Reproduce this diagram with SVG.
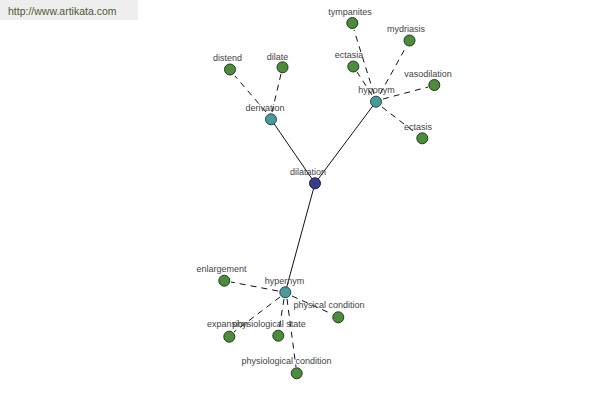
<svg xmlns="http://www.w3.org/2000/svg" width="600" height="400" viewBox="0 0 600 400">
<style>
text{font-family:"Liberation Sans",Arial,sans-serif;font-size:9px;fill:#444;text-anchor:middle}
.solid{stroke:#111;stroke-width:1;fill:none}
.dash{stroke:#111;stroke-width:1;stroke-dasharray:6,5;fill:none}
.leaf{fill:#4c8c3c;stroke:#1f3a1a;stroke-width:1}
.mid{fill:#4a9a9a;stroke:#1f4a4a;stroke-width:1}
.root{fill:#3c3c8c;stroke:#1a1a4a;stroke-width:1}
</style>
<rect x="0" y="0" width="138" height="20" fill="#eeeeee"/>
<text x="8" y="15" style="text-anchor:start;font-size:10.5px;fill:#4d5a33">http://www.artikata.com</text>
<g id="connectors">
<line class="solid" x1="315" y1="183.3" x2="271" y2="119.3"/>
<line class="solid" x1="315" y1="183.3" x2="376" y2="101.7"/>
<line class="solid" x1="315" y1="183.3" x2="285.3" y2="292.3"/>
<line class="dash" x1="266" y1="112" x2="235" y2="76"/>
<line class="dash" x1="272" y1="112" x2="281" y2="74"/>
<line class="dash" x1="374" y1="94" x2="354" y2="30"/>
<line class="dash" x1="380" y1="94" x2="406" y2="47"/>
<line class="dash" x1="372" y1="95" x2="357" y2="72"/>
<line class="dash" x1="383" y1="99" x2="428" y2="87"/>
<line class="dash" x1="382" y1="107" x2="417" y2="134"/>
<line class="dash" x1="278" y1="291" x2="231" y2="282"/>
<line class="dash" x1="292" y1="296" x2="332" y2="314"/>
<line class="dash" x1="280" y1="297" x2="234" y2="332"/>
<line class="dash" x1="284" y1="299" x2="279" y2="330"/>
<line class="dash" x1="287" y1="299" x2="296" y2="367"/>
</g>
<g id="dilatation"><circle class="root" cx="315" cy="183.3" r="5.5"/><text x="308" y="175">dilatation</text></g>
<g id="derivation"><circle class="mid" cx="271" cy="119.3" r="5.5"/><text x="265" y="111">derivation</text></g>
<g id="distend"><circle class="leaf" cx="230" cy="69.5" r="5.5"/><text x="227.5" y="60.5">distend</text></g>
<g id="dilate"><circle class="leaf" cx="282.5" cy="67.3" r="5.5"/><text x="277.5" y="60">dilate</text></g>
<g id="hyponym"><circle class="mid" cx="376" cy="101.7" r="5.5"/><text x="376.5" y="93">hyponym</text></g>
<g id="tympanites"><circle class="leaf" cx="352.3" cy="23" r="5.5"/><text x="350" y="15">tympanites</text></g>
<g id="mydriasis"><circle class="leaf" cx="409.5" cy="40.5" r="5.5"/><text x="406" y="32">mydriasis</text></g>
<g id="ectasia"><circle class="leaf" cx="353.3" cy="66.5" r="5.5"/><text x="349" y="58">ectasia</text></g>
<g id="vasodilation"><circle class="leaf" cx="434.3" cy="85" r="5.5"/><text x="428" y="77">vasodilation</text></g>
<g id="ectasis"><circle class="leaf" cx="422.3" cy="138.3" r="5.5"/><text x="418" y="130">ectasis</text></g>
<g id="hypernym"><circle class="mid" cx="285.3" cy="292.3" r="5.5"/><text x="284.5" y="284">hypernym</text></g>
<g id="enlargement"><circle class="leaf" cx="224.3" cy="280.7" r="5.5"/><text x="221.5" y="272">enlargement</text></g>
<g id="physical_condition"><circle class="leaf" cx="338.3" cy="317.3" r="5.5"/><text x="329" y="308">physical condition</text></g>
<g id="expansion"><circle class="leaf" cx="229.3" cy="336.7" r="5.5"/><text x="227.5" y="327">expansion</text></g>
<g id="physiological_state"><circle class="leaf" cx="278.3" cy="335.7" r="5.5"/><text x="269" y="327">physiological state</text></g>
<g id="physiological_condition"><circle class="leaf" cx="296.7" cy="373.3" r="5.5"/><text x="286.5" y="363.5">physiological condition</text></g>
</svg>
